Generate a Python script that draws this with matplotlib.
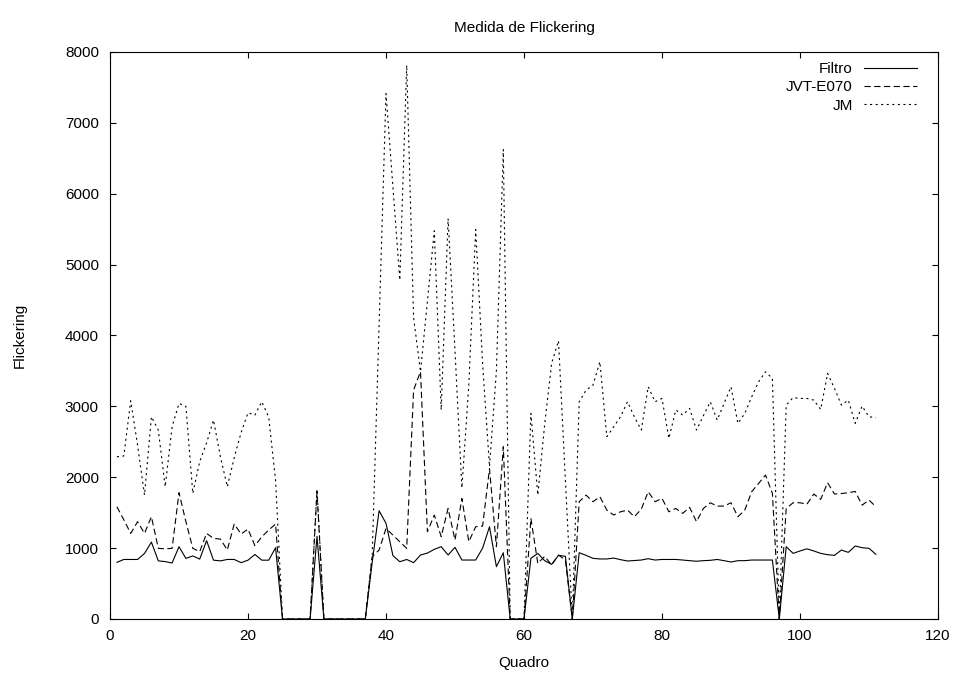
import numpy as np
import matplotlib
matplotlib.use("Agg")
import matplotlib.pyplot as plt

# Frame index (Quadro) and flickering measure per method
frames = np.arange(1, 112)

filtro = [
    800, 840, 840, 840, 925, 1085, 820, 810, 790, 1020,
    855, 890, 845, 1105, 830, 820, 840, 840, 795, 830,
    910, 830, 830, 1005, 0, 0, 0, 0, 0, 1165,
    0, 0, 0, 0, 0, 0, 0, 800, 1528, 1350,
    895, 808, 840, 795, 903, 930, 983, 1020, 903, 1011,
    832, 832, 832, 1000, 1302, 738, 935, 0, 0, 0,
    856, 926, 823, 771, 898, 884, 0, 935, 898, 856,
    847, 847, 860, 837, 818, 825, 832, 851, 832, 840,
    840, 840, 832, 823, 815, 823, 828, 840, 823, 804,
    823, 823, 832, 832, 832, 832, 0, 1020, 926, 960,
    990, 960, 926, 907, 898, 973, 940, 1030, 1006, 997,
    913,
]

jvt_e070 = [
    1584, 1400, 1208, 1373, 1208, 1443, 997, 990, 997, 1782,
    1373, 997, 950, 1208, 1137, 1128, 973, 1340, 1199, 1269,
    1034, 1160, 1255, 1340, 0, 0, 0, 0, 0, 1800,
    0, 0, 0, 0, 0, 0, 0, 879, 973, 1278,
    1184, 1090, 997, 3230, 3490, 1232, 1467, 1161, 1561, 1114,
    1700, 1091, 1302, 1311, 2120, 1020, 2431, 0, 0, 0,
    1420, 785, 884, 762, 902, 832, 0, 1655, 1748, 1655,
    1725, 1537, 1467, 1513, 1537, 1443, 1550, 1796, 1655, 1702,
    1513, 1560, 1490, 1575, 1373, 1560, 1640, 1593, 1593, 1640,
    1443, 1537, 1796, 1913, 2031, 1772, 0, 1560, 1640, 1640,
    1620, 1763, 1688, 1923, 1763, 1770, 1782, 1800, 1607, 1678,
    1584,
]

jm = [
    2289, 2300, 3079, 2450, 1749, 2854, 2666, 1866, 2713, 3042,
    3000, 1772, 2220, 2485, 2807, 2290, 1866, 2274, 2630, 2910,
    2877, 3065, 2850, 1950, 0, 0, 0, 0, 0, 1830,
    0, 0, 0, 0, 0, 0, 0, 900, 4150, 7414,
    6100, 4781, 7814, 4250, 3490, 4480, 5477, 2948, 5651, 3780,
    1850, 3300, 5496, 3600, 2150, 3500, 6624, 0, 0, 0,
    2901, 1749, 2750, 3606, 3926, 1960, 0, 3065, 3230, 3300,
    3630, 2572, 2712, 2854, 3065, 2850, 2666, 3277, 3065, 3112,
    2548, 2948, 2878, 2972, 2666, 2869, 3065, 2807, 3042, 3277,
    2760, 2900, 3135, 3347, 3488, 3394, 0, 3018, 3124, 3112,
    3112, 3088, 2957, 3465, 3253, 3018, 3088, 2760, 3004, 2854,
    2840,
]

x_ticks = list(range(0, 121, 20))
y_ticks = list(range(0, 8001, 1000))

plt.rcParams['font.family'] = ['Liberation Sans', 'DejaVu Sans']
plt.rcParams['lines.scale_dashes'] = False

FS = 11
W, H = 964, 679
fig = plt.figure(figsize=(W / 100, H / 100), dpi=100)
ax = fig.add_axes([110 / W, 60 / H, 828 / W, 567 / H])

ax.plot(frames, filtro, color='black', lw=0.8, label='Filtro')
ax.plot(frames, jvt_e070, color='black', lw=0.8,
        linestyle=(0, (4.5, 2.5)), label='JVT-E070')
ax.plot(frames, jm, color='black', lw=0.8,
        linestyle=(0, (1.5, 2.5)), label='JM')

ax.set_xlim(0, 120)
ax.set_ylim(0, 8000)
ax.set_xticks(x_ticks)
ax.set_yticks(y_ticks)
ax.tick_params(direction='in', length=4.5, width=0.8, top=True, right=True,
               labelsize=FS, colors='black')
ax.tick_params(axis='x', pad=7)
ax.tick_params(axis='y', pad=8)
for s in ax.spines.values():
    s.set_linewidth(0.8)

fig.text(524 / W, 1 - 28 / H, 'Medida de Flickering', ha='center', va='center',
         fontsize=FS)
fig.text(524 / W, 1 - 663 / H, 'Quadro', ha='center', va='center', fontsize=FS)
fig.text(20 / W, 1 - 335 / H, 'Flickering', ha='center', va='center',
         rotation=90, fontsize=FS)

ax.legend(loc='upper right', bbox_to_anchor=(1 - 21 / 828, 1 - 10 / 567),
          frameon=False, markerfirst=False, handlelength=3.5,
          handletextpad=0.7, labelspacing=0.28, fontsize=FS,
          borderaxespad=0, borderpad=0)

fig.savefig('out.png', dpi=100)
